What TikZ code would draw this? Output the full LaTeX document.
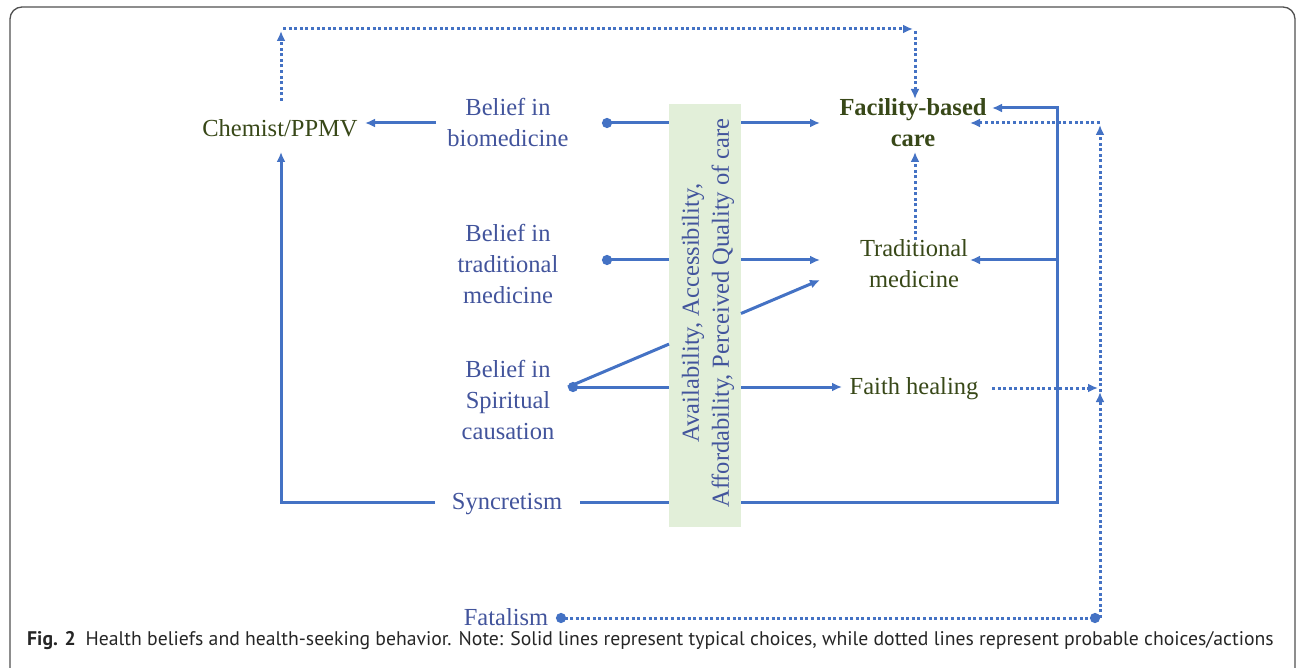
\documentclass[tikz,border=0pt]{standalone}
\usepackage{fontspec}
\setmainfont{Liberation Serif}
\newfontfamily\capfont{PT Sans}
\usetikzlibrary{arrows.meta}
\definecolor{lineblue}{RGB}{68,114,196}
\definecolor{txtblue}{RGB}{66,84,156}
\definecolor{txtgreen}{RGB}{56,72,24}
\definecolor{boxgreen}{RGB}{226,239,217}
\definecolor{framegray}{RGB}{80,80,80}
\begin{document}
\begin{tikzpicture}[x=1pt,y=-1pt,
  every node/.style={inner sep=0pt, align=center, font=\fontsize{24.5}{31}\selectfont},
  belief/.style={text=txtblue},
  outcome/.style={text=txtgreen},
  solidln/.style={draw=lineblue, line width=3pt},
  dotln/.style={draw=lineblue, line width=3pt, dash pattern=on 3pt off 2.6pt},
  tip/.style={-{Latex[length=10pt,width=9pt]}},
  dottip/.style={{Circle[length=10pt]}-},
  dotdot/.style={{Circle[length=10pt]}-{Circle[length=10pt]}}
]
\useasboundingbox (0,0) rectangle (1296,668);
\draw[framegray, line width=1.3pt, rounded corners=12pt] (10,672) -- (10,7) -- (1295,7) -- (1295,672);

% text nodes
\node[outcome] (chem) at (280,128) {Chemist/PPMV};
\node[belief] (bio) at (508,122) {Belief in\\biomedicine};
\node[belief] (trad) at (508,264) {Belief in\\traditional\\medicine};
\node[belief] (spir) at (508,400) {Belief in\\Spiritual\\causation};
\node[belief] (sync) at (507,504) {Syncretism};
\node[belief] (fat) at (506,617) {Fatalism};
\node[outcome, font=\fontsize{24.5}{31}\selectfont\bfseries] (fac) at (913,123) {Facility-based\\care};
\node[outcome] (tm) at (914,264) {Traditional\\medicine};
\node[outcome] (faith) at (914,389) {Faith healing};

% box
\node[fill=boxgreen, minimum width=72pt, minimum height=423pt] (box) at (705,315.5) {};
\node[belief, rotate=90, font=\fontsize{24.5}{30}\selectfont] (boxtxt) at (708,313) {Availability, Accessibility,\\Affordability, Perceived Quality of care};

% coordinates
\coordinate (bioL) at (436,123);
\coordinate (chemE) at (365,123);
\coordinate (bioD) at (602,123);
\coordinate (facW) at (820,123);
\coordinate (tradD) at (602,260);
\coordinate (tmW) at (820,260);
\coordinate (spD) at (568,387);
\coordinate (faithW) at (842,387);
\coordinate (diagA) at (669,344.1);
\coordinate (diagB) at (741,313.5);
\coordinate (tmW2) at (820,280);
\coordinate (syncL) at (435,502);
\coordinate (cornerL) at (281,502);
\coordinate (chemS) at (281,152);
\coordinate (syncR) at (580,502);
\coordinate (cornerR) at (1057,502);
\coordinate (cornerT) at (1057,108);
\coordinate (facE1) at (992,108);
\coordinate (midR) at (1057,260);
\coordinate (tmE) at (970,260);
\coordinate (chemN) at (281,101);
\coordinate (topL) at (281,31);
\coordinate (topL2) at (283,29);
\coordinate (topR) at (913,29);
\coordinate (topR2) at (915,31);
\coordinate (facN) at (915,99);
\coordinate (tmN) at (915,240);
\coordinate (facS) at (915,152);
\coordinate (faithE) at (992,388);
\coordinate (dotR) at (1098,388);
\coordinate (fatD) at (556,618);
\coordinate (fatR) at (1100,618);
\coordinate (fatUp1) at (1100,392);
\coordinate (fatUp2) at (1100,125);
\coordinate (dotTop) at (1098,123);
\coordinate (facE2) at (970,123);

% solid connectors
\draw[solidln, tip] (bioL) -- (chemE);
\draw[solidln, dottip] (bioD) -- (box.west |- bioD);
\draw[solidln, tip] (box.east |- bioD) -- (facW);
\draw[solidln, dottip] (tradD) -- (box.west |- tradD);
\draw[solidln, tip] (box.east |- tradD) -- (tmW);
\draw[solidln, dottip] (spD) -- (box.west |- spD);
\draw[solidln, tip] (box.east |- spD) -- (faithW);
\draw[solidln] (spD) -- (diagA);
\draw[solidln, tip] (diagB) -- (tmW2);
\draw[solidln, tip] (syncL) -- (cornerL) -- (chemS);
\draw[solidln] (syncR) -- (box.west |- syncR);
\draw[solidln, tip] (box.east |- syncR) -- (cornerR) -- (cornerT) -- (facE1);
\draw[solidln, tip] (midR) -- (tmE);

% dotted connectors
\draw[dotln, tip] (chemN) -- (topL);
\draw[dotln, tip] (topL2) -- (topR);
\draw[dotln, tip] (topR2) -- (facN);
\draw[dotln, tip] (tmN) -- (facS);
\draw[dotln, tip] (faithE) -- (dotR);
\draw[dotln, dotdot] (fatD) -- (fatR);
\draw[dotln, tip] (fatR) -- (fatUp1);
\draw[dotln, tip] (fatUp1) -- (fatUp2);
\draw[dotln, tip] (fatUp2 |- dotTop) -- (facE2);

% caption
\node[anchor=base west, font=\capfont\fontsize{19.7}{22}\selectfont, text=black!85] (cap) at (27,645)
  {\textbf{Fig. 2}\hspace{10pt}Health beliefs and health-seeking behavior. Note: Solid lines represent typical choices, while dotted lines represent probable choices/actions};
\end{tikzpicture}
\end{document}
